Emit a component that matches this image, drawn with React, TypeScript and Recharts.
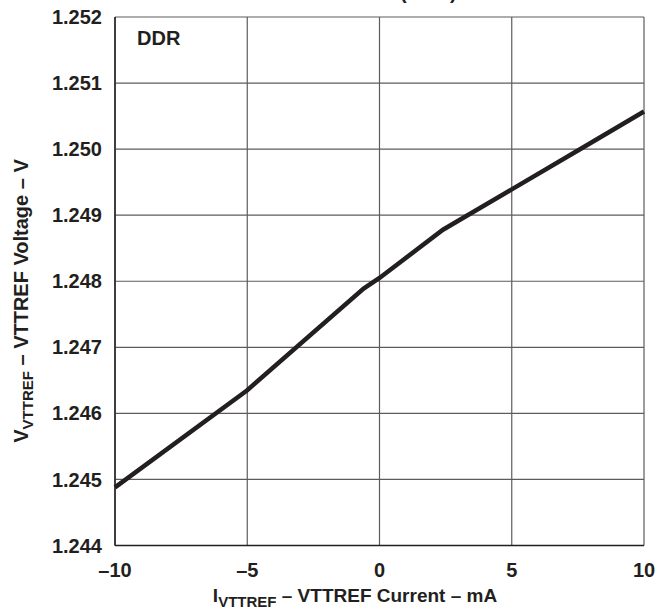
import { LineChart, Line, XAxis, YAxis, CartesianGrid, Label } from 'recharts';

// VTTREF current (mA) and VTTREF voltage (V)
const current = [-10, -5, -0.6, 0, 2.4, 5, 7.5, 10];
const voltage = [1.24488, 1.24635, 1.24789, 1.24805, 1.24878, 1.24939, 1.24998, 1.25057];

const xTicks = [-10, -5, 0, 5, 10];
const yTicks = [1.244, 1.245, 1.246, 1.247, 1.248, 1.249, 1.25, 1.251, 1.252];

const data = current.map((c, i) => ({ current: c, voltage: voltage[i] }));

const FONT = '"Liberation Sans", Arial, sans-serif';
const INK = '#231f20';

export default function App() {
  return (
    <div style={{ position: 'absolute', left: 0, top: 0, background: '#fff' }}>
      <LineChart width={655} height={610} data={data} margin={{ top: 17, right: 11, bottom: 0, left: 15 }}>
        <CartesianGrid stroke="#5c5c5c" strokeWidth={1.2} />
        <XAxis
          dataKey="current"
          type="number"
          domain={[-10, 10]}
          ticks={xTicks}
          height={64.5}
          tickLine={false}
          tickSize={6}
          tickMargin={11.5}
          axisLine={{ stroke: INK, strokeWidth: 1.5 }}
          tickFormatter={(v: number) => (v < 0 ? `\u2013${Math.abs(v)}` : `${v}`)}
          tick={{ fontSize: 20, fontWeight: 700, fill: INK, fontFamily: FONT }}
        >
          <Label
            content={() => (
              <text x={355} y={602} textAnchor="middle" fontFamily={FONT} fontWeight={700} fontSize={19} fill={INK}>
                <tspan>I</tspan>
                <tspan fontSize={15} dy={5}>VTTREF</tspan>
                <tspan dy={-5}> – VTTREF Current – mA</tspan>
              </text>
            )}
          />
        </XAxis>
        <YAxis
          dataKey="voltage"
          type="number"
          domain={[1.244, 1.252]}
          ticks={yTicks}
          width={100}
          tickLine={false}
          tickSize={6}
          tickMargin={7}
          axisLine={{ stroke: INK, strokeWidth: 1.5 }}
          tickFormatter={(v: number) => v.toFixed(3)}
          tick={{ fontSize: 20, fontWeight: 700, fill: INK, fontFamily: FONT }}
        >
          <Label
            content={() => (
              <text
                x={28}
                y={301}
                transform="rotate(-90 28 301)"
                textAnchor="middle"
                fontFamily={FONT}
                fontWeight={700}
                fontSize={20}
                fill={INK}
              >
                <tspan>V</tspan>
                <tspan fontSize={15} dy={5}>VTTREF</tspan>
                <tspan dy={-5}> – VTTREF Voltage – V</tspan>
              </text>
            )}
          />
        </YAxis>
        <Line
          type="linear"
          dataKey="voltage"
          stroke={INK}
          strokeWidth={4.5}
          dot={false}
          isAnimationActive={false}
        />
        <text x={137} y={45} fontFamily={FONT} fontWeight={700} fontSize={20} fill={INK}>
          DDR
        </text>
        {/* title sits above the frame in the source, only its lower edge shows */}
        <text x={335} y={-1} textAnchor="middle" fontFamily={FONT} fontWeight={700} fontSize={20} fill={INK}>
          VTTREF CURRENT (DDR)
        </text>
      </LineChart>
    </div>
  );
}
